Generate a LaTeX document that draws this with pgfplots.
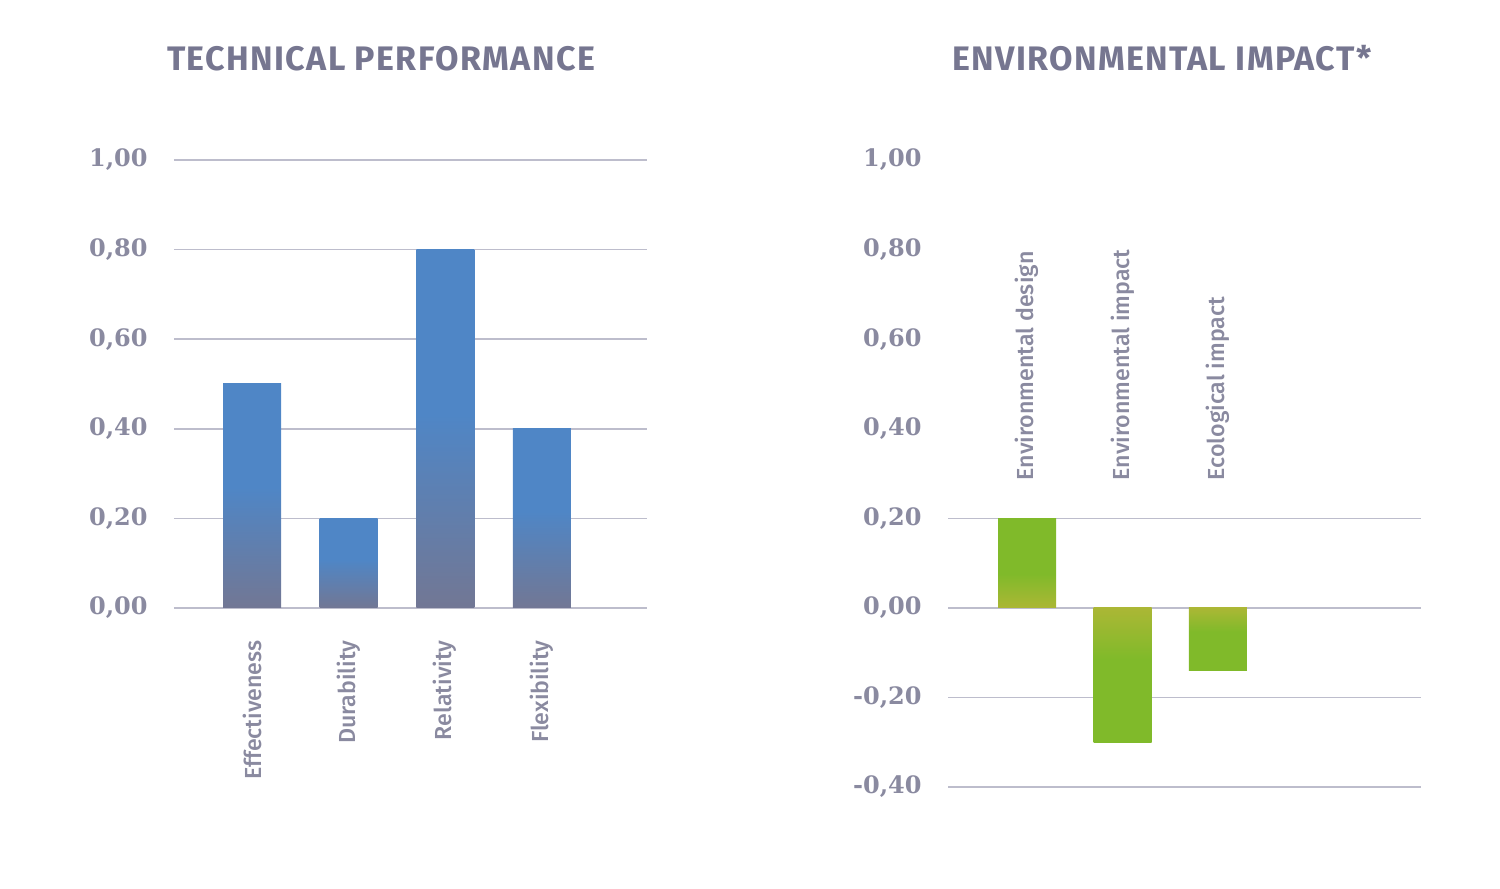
\documentclass[border=0pt]{standalone}
\usepackage{pgfplots}
\pgfplotsset{compat=1.18}
\usepackage{fontspec}
\setmainfont{Fira Sans}
\newfontfamily\labfont{Fira Sans Medium}
\newfontfamily\tickfont{DejaVu Serif}
\definecolor{tcol}{HTML}{767690}
\definecolor{kcol}{HTML}{8A8AA0}
\definecolor{gridc}{HTML}{BDBDCC}
\definecolor{barblue}{HTML}{4F86C6}
\definecolor{bargrey}{HTML}{727794}
\definecolor{bargreen}{HTML}{80BA2A}
\definecolor{baryel}{HTML}{ABB735}
\pgfdeclareverticalshading{blueshade}{100bp}{color(0bp)=(bargrey); color(25bp)=(bargrey); color(52bp)=(barblue); color(100bp)=(barblue)}
\pgfdeclareverticalshading{greenup}{100bp}{color(0bp)=(baryel); color(25bp)=(baryel); color(44bp)=(bargreen); color(100bp)=(bargreen)}
\pgfdeclareverticalshading{greendown}{100bp}{color(0bp)=(bargreen); color(56bp)=(bargreen); color(75bp)=(baryel); color(100bp)=(baryel)}
\pgfplotsset{
  mystyle/.style={
    scale only axis, width=236.5pt, clip=false,
    axis line style={draw=none}, tick style={draw=none},
    grid style={gridc, line width=0.75pt},
    /pgf/number format/assume math mode=true,
    /pgf/number format/.cd, fixed, fixed zerofill, precision=2, use comma,
    /pgfplots/.cd,
    yticklabel style={font=\tickfont\bfseries\fontsize{12}{14}\selectfont, text=kcol, anchor=east, inner sep=0pt, xshift=-13pt},
  },
  mybar/.style={ybar, bar width=29pt, bar shift=0pt, draw=none, shade, shading=#1},
}
\begin{document}
\begin{tikzpicture}
\path[use as bounding box] (0pt,0pt) rectangle (750pt,444.5pt);
\node[font=\bfseries\fontsize{17}{20}\selectfont\addfontfeatures{LetterSpace=4}, text=tcol] at (190.5pt,415pt) {TECHNICAL PERFORMANCE};
\node[font=\bfseries\fontsize{17}{20}\selectfont\addfontfeatures{LetterSpace=4}, text=tcol] at (581pt,415.5pt) {ENVIRONMENTAL IMPACT*};
\begin{axis}[mystyle, at={(87pt,140.5pt)}, anchor=south west, height=224pt,
  xmin=-0.81, xmax=4.09, ymin=0, ymax=1,
  ytick={0,0.2,0.4,0.6,0.8,1}, ymajorgrids,
  xtick={0,1,2,3}, xticklabels={Effectiveness,Durability,Relativity,Flexibility},
  xticklabel style={rotate=90, anchor=east, inner sep=0pt, font=\labfont\fontsize{11.6}{13}\selectfont, text=kcol},
  xticklabel shift=16pt]
\addplot[mybar=blueshade] coordinates {(0,0.5)};
\addplot[mybar=blueshade] coordinates {(1,0.2)};
\addplot[mybar=blueshade] coordinates {(2,0.8)};
\addplot[mybar=blueshade] coordinates {(3,0.4)};
\end{axis}
\begin{axis}[mystyle, at={(474pt,51pt)}, anchor=south west, height=313.5pt,
  xmin=-0.83, xmax=4.13, ymin=-0.4, ymax=1,
  ytick={-0.4,-0.2,0,0.2,0.4,0.6,0.8,1},
  extra y ticks={-0.4,-0.2,0,0.2}, extra y tick labels={},
  extra y tick style={grid=major},
  xtick=\empty]
\addplot[mybar=greenup] coordinates {(0,0.2)};
\addplot[mybar=greendown] coordinates {(1,-0.3)};
\addplot[mybar=greendown] coordinates {(2,-0.14)};
\node[rotate=90, anchor=west, inner sep=0pt, font=\labfont\fontsize{11.6}{13}\selectfont, text=kcol] at (axis cs:0,0.284) {Environmental design};
\node[rotate=90, anchor=west, inner sep=0pt, font=\labfont\fontsize{11.6}{13}\selectfont, text=kcol] at (axis cs:1,0.284) {Environmental impact};
\node[rotate=90, anchor=west, inner sep=0pt, font=\labfont\fontsize{11.6}{13}\selectfont, text=kcol] at (axis cs:2,0.284) {Ecological impact};
\end{axis}
\end{tikzpicture}
\end{document}
